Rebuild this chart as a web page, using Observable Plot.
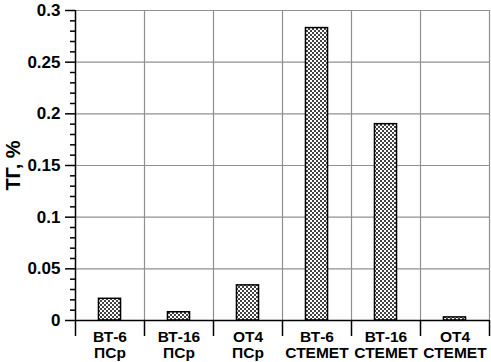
<!DOCTYPE html>
<html>
<head>
<meta charset="utf-8">
<script src="https://cdn.jsdelivr.net/npm/d3@7"></script>
<script src="https://cdn.jsdelivr.net/npm/@observablehq/plot@0.6"></script>
<style>
  html, body { margin: 0; padding: 0; background: #fff; }
  svg { display: block; }
</style>
</head>
<body>
<div id="chart"></div>
<script>
const categories = ["ВТ-6\nПСр", "ВТ-16\nПСр", "ОТ4\nПСр", "ВТ-6\nСТЕМЕТ", "ВТ-16\nСТЕМЕТ", "ОТ4\nСТЕМЕТ"];
const values = [0.021, 0.008, 0.034, 0.283, 0.190, 0.003];
const majorTicks = [0, 0.05, 0.1, 0.15, 0.2, 0.25, 0.3];
const minorTicks = [0.01,0.02,0.03,0.04,0.06,0.07,0.08,0.09,0.11,0.12,0.13,0.14,0.16,0.17,0.18,0.19,0.21,0.22,0.23,0.24,0.26,0.27,0.28,0.29];
const yLabel = "ТГ, %";

const data = categories.map((c, i) => ({i, c, v: values[i]}));
const n = categories.length;
const boundaries = d3.range(0, n + 1);
const inner = d3.range(1, n);
const centers = d3.range(n).map(i => i + 0.5);

const font = "'Liberation Sans', Arial, sans-serif";

const chart = Plot.plot({
  width: 491,
  height: 362,
  marginLeft: 75,
  marginRight: 2,
  marginTop: 10,
  marginBottom: 42,
  style: {fontFamily: font, fontWeight: "bold", color: "#000", background: "#fff"},
  x: {domain: [0, n]},
  y: {domain: [0, 0.3]},
  marks: [
    Plot.ruleY(majorTicks.slice(1), {stroke: "#909090", strokeWidth: 1.2}),
    Plot.ruleX(inner, {stroke: "#909090", strokeWidth: 1.2}),
    Plot.ruleX([n], {stroke: "#909090", strokeWidth: 1.2}),
    Plot.rectY(data, {x1: d => d.i + 0.34, x2: d => d.i + 0.66, y: "v", fill: "url(#hatch)", stroke: "#000", strokeWidth: 1.5}),
    Plot.axisY(minorTicks, {tickSize: 5, text: null, strokeWidth: 1.5, label: null}),
    Plot.axisY(majorTicks, {tickSize: 10, tickPadding: 5, fontSize: 17, fontWeight: "bold", strokeWidth: 1.5,
      tickFormat: d => d === 0 ? "0" : String(d),
      label: yLabel, labelAnchor: "center", labelArrow: "none", labelOffset: 70}),
    Plot.axisX(boundaries, {tickSize: 16, text: null, strokeWidth: 1.5, label: null}),
    Plot.axisX(centers, {tickSize: 0, tickPadding: 10, fontSize: 15.5, fontWeight: "bold", lineHeight: 1.05,
      tickFormat: d => categories[Math.floor(d)], label: null}),
    Plot.ruleX([0], {stroke: "#000", strokeWidth: 1.5}),
    Plot.ruleY([0], {stroke: "#000", strokeWidth: 1.5})
  ]
});

const defs = document.createElementNS("http://www.w3.org/2000/svg", "defs");
defs.innerHTML = `<pattern id="hatch" patternUnits="userSpaceOnUse" width="4" height="4">
  <rect width="4" height="4" fill="#ffffff"/>
  <rect x="0" y="0" width="2" height="2" fill="#444444"/>
  <rect x="2" y="2" width="2" height="2" fill="#444444"/>
</pattern>`;
chart.insertBefore(defs, chart.firstChild);

chart.querySelectorAll("text").forEach(t => {
  if (t.textContent === yLabel) { t.setAttribute("font-size", 20); t.style.fontSize = "20px"; }
});

document.getElementById("chart").appendChild(chart);
</script>
</body>
</html>
